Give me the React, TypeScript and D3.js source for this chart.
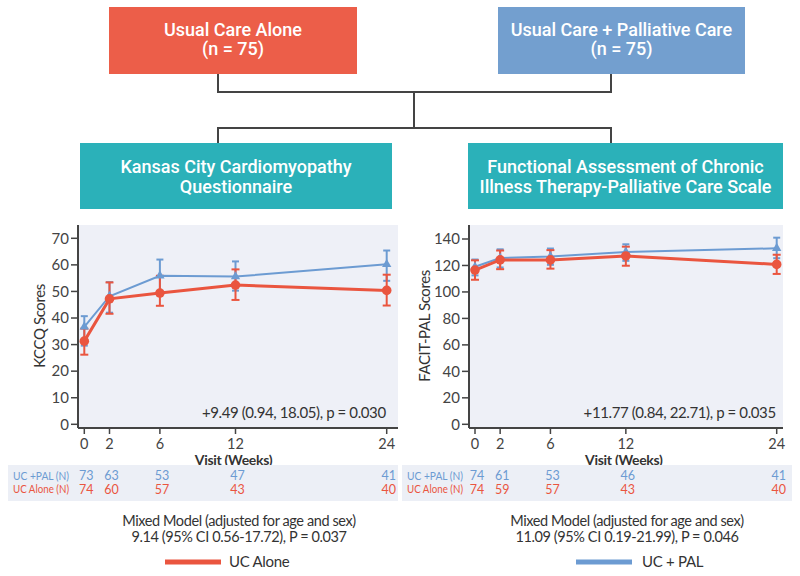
import React from "react";
import * as d3 from "d3";

const weeks = [0, 2, 6, 12, 24];

const kccqUC = [31.3, 47.2, 49.4, 52.4, 50.4];
const kccqUCLo = [26.2, 41.6, 44.6, 46.8, 44.7];
const kccqUCHi = [36.0, 53.4, 55.9, 58.3, 56.3];
const kccqPAL = [36.7, 48.2, 55.9, 55.6, 60.2];
const kccqPALLo = [29.6, 42.0, 50.2, 50.3, 54.0];
const kccqPALHi = [40.7, 53.5, 62.0, 61.3, 65.4];

const facitUC = [116.5, 124.2, 124.2, 127.2, 120.8];
const facitUCLo = [109.2, 117.2, 117.6, 119.8, 113.6];
const facitUCHi = [123.9, 131.3, 131.6, 134.2, 128.1];
const facitPAL = [119.0, 125.6, 126.8, 130.2, 133.0];
const facitPALLo = [112.5, 118.5, 120.5, 123.5, 125.5];
const facitPALHi = [124.5, 132.2, 132.8, 136.0, 141.0];

const kccqTicks = [0, 10, 20, 30, 40, 50, 60, 70];
const facitTicks = [0, 20, 40, 60, 80, 100, 120, 140];

const kccqNPal = [73, 63, 53, 47, 41];
const kccqNUC = [74, 60, 57, 43, 40];
const facitNPal = [74, 61, 53, 46, 41];
const facitNUC = [74, 59, 57, 43, 40];

const RED = "#ea553f";
const BLUE = "#6c9bd2";
const TEAL = "#2bb1b9";
const FONT = "Lato, 'Noto Sans', sans-serif";
const NARROW = "Roboto, 'Noto Sans', sans-serif";

type PanelProps = {
  bgX0: number;
  bgX1: number;
  xR0: number;
  xR1: number;
  yMax: number;
  yTop: number;
  ticks: number[];
  uc: number[];
  ucLo: number[];
  ucHi: number[];
  pal: number[];
  palLo: number[];
  palHi: number[];
  yLabel: string;
  yLabelX: number;
  annot: string;
  nPal: number[];
  nUC: number[];
  tableX0: number;
  tableX1: number;
  model2: string;
};

function Panel(p: PanelProps) {
  const x = d3.scaleLinear().domain([0, 24]).range([p.xR0, p.xR1]);
  const y = d3.scaleLinear().domain([0, p.yMax]).range([424.3, p.yTop]);
  const axisY = 428;
  const line = d3
    .line<number>()
    .x((_, i) => x(weeks[i]))
    .y((v) => y(v));
  const tri = d3.symbol().type(d3.symbolTriangle).size(38)();
  const cx = (p.bgX0 + p.bgX1) / 2;

  const errBars = (vals: number[], lo: number[], hi: number[], color: string, cap: number, sw: number) =>
    vals.map((_, i) => {
      const xx = x(weeks[i]);
      return (
        <g key={i} stroke={color} strokeWidth={sw}>
          <line x1={xx} x2={xx} y1={y(lo[i])} y2={y(hi[i])} />
          <line x1={xx - cap} x2={xx + cap} y1={y(lo[i])} y2={y(lo[i])} />
          <line x1={xx - cap} x2={xx + cap} y1={y(hi[i])} y2={y(hi[i])} />
        </g>
      );
    });

  return (
    <g>
      <rect x={p.bgX0} y={225} width={p.bgX1 - p.bgX0} height={axisY - 225} fill="#eef0f7" />
      {/* y axis */}
      <line x1={p.bgX0} x2={p.bgX0} y1={225} y2={axisY} stroke="#444" strokeWidth={2} />
      {p.ticks.map((t) => (
        <g key={t}>
          <line x1={p.bgX0 - 7} x2={p.bgX0} y1={y(t)} y2={y(t)} stroke="#444" strokeWidth={1.5} />
          <text x={p.bgX0 - 9} y={y(t)} dy="0.35em" textAnchor="end" fontSize={15} fill="#444" fontFamily={FONT}>
            {t}
          </text>
        </g>
      ))}
      {/* x axis */}
      <line x1={p.bgX0} x2={p.bgX1} y1={axisY} y2={axisY} stroke="#444" strokeWidth={2} />
      {weeks.map((w) => (
        <g key={w}>
          <line x1={x(w)} x2={x(w)} y1={axisY} y2={axisY + 6} stroke="#444" strokeWidth={1.5} />
          <text x={x(w)} y={443.5} dy="0.35em" textAnchor="middle" fontSize={14.5} fill="#444" fontFamily={FONT}>
            {w}
          </text>
        </g>
      ))}
      <text x={(p.xR0 + p.xR1) / 2 - 2} y={460.5} dy="0.35em" textAnchor="middle" fontSize={14} fontWeight={700} letterSpacing={-0.3} fill="#333" fontFamily={FONT}>
        Visit (Weeks)
      </text>
      <text
        transform={`translate(${p.yLabelX},326) rotate(-90)`}
        textAnchor="middle"
        dy="0.35em"
        fontSize={15}
        letterSpacing={-0.4}
        fill="#333"
        fontFamily={FONT}
      >
        {p.yLabel}
      </text>
      {/* series */}
      {errBars(p.pal, p.palLo, p.palHi, BLUE, 3.5, 2)}
      {errBars(p.uc, p.ucLo, p.ucHi, RED, 4, 2)}
      <path d={line(p.pal) || ""} fill="none" stroke={BLUE} strokeWidth={2} />
      <path d={line(p.uc) || ""} fill="none" stroke={RED} strokeWidth={3} />
      {p.pal.map((v, i) => (
        <path key={i} d={tri || ""} transform={`translate(${x(weeks[i])},${y(v)})`} fill={BLUE} />
      ))}
      {p.uc.map((v, i) => (
        <circle key={i} cx={x(weeks[i])} cy={y(v)} r={4.8} fill={RED} />
      ))}
      <text x={p.xR1 - 1} y={412.7} dy="0.35em" textAnchor="end" fontSize={15} letterSpacing={-0.4} fill="#333" fontFamily={FONT}>
        {p.annot}
      </text>
      {/* N table */}
      <rect x={p.tableX0} y={465} width={p.tableX1 - p.tableX0} height={36} fill="#eceff6" />
      <text x={p.tableX0 + 5} y={476} dy="0.35em" fontSize={11} fill={BLUE} fontFamily={FONT} textLength={56} lengthAdjust="spacingAndGlyphs">
        {"UC +PAL  (N)"}
      </text>
      <text x={p.tableX0 + 5} y={489.5} dy="0.35em" fontSize={11} fill={RED} fontFamily={FONT} textLength={56} lengthAdjust="spacingAndGlyphs">
        UC Alone (N)
      </text>
      {p.nPal.map((n, i) => (
        <text key={"p" + i} x={x(weeks[i]) + 2} y={476} dy="0.35em" textAnchor="middle" fontSize={12.5} fill={BLUE} fontFamily={FONT}>
          {n}
        </text>
      ))}
      {p.nUC.map((n, i) => (
        <text key={"u" + i} x={x(weeks[i]) + 2} y={489.5} dy="0.35em" textAnchor="middle" fontSize={12.5} fill={RED} fontFamily={FONT}>
          {n}
        </text>
      ))}
      <text x={cx + 1} y={521} dy="0.35em" textAnchor="middle" fontSize={14.5} letterSpacing={-0.4} fill="#333" fontFamily={FONT}>
        Mixed Model (adjusted for age and sex)
      </text>
      <text x={cx + 1} y={536.5} dy="0.35em" textAnchor="middle" fontSize={14.5} letterSpacing={-0.4} fill="#333" fontFamily={FONT}>
        {p.model2}
      </text>
    </g>
  );
}

function Box(props: { x0: number; x1: number; y0: number; y1: number; fill: string; lines: string[]; ys: number[]; fs: number }) {
  const cx = (props.x0 + props.x1) / 2;
  return (
    <g>
      <rect x={props.x0} y={props.y0} width={props.x1 - props.x0} height={props.y1 - props.y0} fill={props.fill} />
      {props.lines.map((l, i) => (
        <text key={i} x={cx} y={props.ys[i]} dy="0.35em" textAnchor="middle" fill="#fff" fontSize={props.fs} fontWeight={500} fontFamily={NARROW}>
          {l}
        </text>
      ))}
    </g>
  );
}

export default function App() {
  return (
    <svg width={800} height={576} style={{ position: "absolute", left: 0, top: 0, background: "#fff" }}>
      <rect x={0} y={0} width={800} height={576} fill="#fff" />
      {/* connectors */}
      <g stroke="#444" strokeWidth={2} fill="none">
        <path d="M218,74 V92 H611 V74" />
        <path d="M414,92 V128" />
        <path d="M218,143 V128 H611 V143" />
      </g>
      <Box x0={109} x1={357} y0={7} y1={74} fill="#ec5e49" lines={["Usual Care Alone", "(n = 75)"]} ys={[30, 49]} fs={18} />
      <Box x0={498} x1={745} y0={7} y1={74} fill="#739fcf" lines={["Usual Care + Palliative Care", "(n = 75)"]} ys={[30, 49]} fs={18} />
      <Box x0={80} x1={392} y0={143} y1={209} fill={TEAL} lines={["Kansas City Cardiomyopathy", "Questionnaire"]} ys={[166.5, 186.5]} fs={18} />
      <Box x0={468} x1={783} y0={143} y1={209} fill={TEAL} lines={["Functional Assessment of Chronic", "Illness Therapy-Palliative Care Scale"]} ys={[166.5, 186.5]} fs={18} />

      <Panel
        bgX0={78}
        bgX1={398}
        xR0={84.3}
        xR1={386.7}
        yMax={70}
        yTop={238.3}
        ticks={kccqTicks}
        uc={kccqUC}
        ucLo={kccqUCLo}
        ucHi={kccqUCHi}
        pal={kccqPAL}
        palLo={kccqPALLo}
        palHi={kccqPALHi}
        yLabel="KCCQ Scores"
        yLabelX={40}
        annot="+9.49 (0.94, 18.05), p = 0.030"
        nPal={kccqNPal}
        nUC={kccqNUC}
        tableX0={8}
        tableX1={398}
        model2="9.14 (95% CI 0.56-17.72), P = 0.037"
      />
      <Panel
        bgX0={469}
        bgX1={783}
        xR0={475}
        xR1={776.7}
        yMax={140}
        yTop={239}
        ticks={facitTicks}
        uc={facitUC}
        ucLo={facitUCLo}
        ucHi={facitUCHi}
        pal={facitPAL}
        palLo={facitPALLo}
        palHi={facitPALHi}
        yLabel="FACIT-PAL Scores"
        yLabelX={425}
        annot="+11.77 (0.84, 22.71), p = 0.035"
        nPal={facitNPal}
        nUC={facitNUC}
        tableX0={402}
        tableX1={792}
        model2="11.09 (95% CI 0.19-21.99), P = 0.046"
      />
      {/* legend */}
      <line x1={165} x2={221} y1={562} y2={562} stroke={RED} strokeWidth={5} />
      <text x={229} y={562} dy="0.35em" fontSize={15} letterSpacing={-0.3} fill="#333" fontFamily={FONT}>
        UC Alone
      </text>
      <line x1={576} x2={632} y1={562} y2={562} stroke={BLUE} strokeWidth={5} />
      <text x={642} y={562} dy="0.35em" fontSize={15} letterSpacing={-0.3} fill="#333" fontFamily={FONT}>
        UC + PAL
      </text>
    </svg>
  );
}
